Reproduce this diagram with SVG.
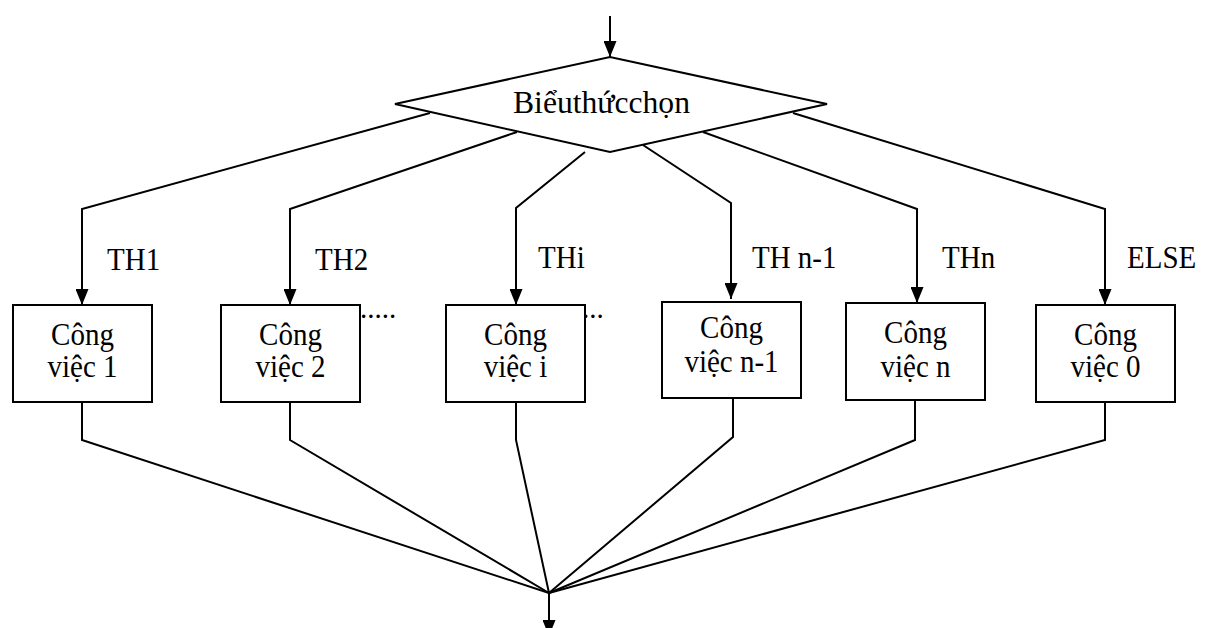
<svg xmlns="http://www.w3.org/2000/svg" width="1205" height="628" viewBox="0 0 1205 628">
<style>
.s{fill:none;stroke:#000;stroke-width:2}
.b{fill:#fff;stroke:#000;stroke-width:2}
text{font-family:"Liberation Serif","Times New Roman",serif;font-size:29px;fill:#000}
.c{text-anchor:middle}
</style>
<defs>
<marker id="a2" viewBox="0 0 16 13" markerWidth="16" markerHeight="13" refX="16" refY="6.5" orient="auto" markerUnits="userSpaceOnUse">
<path d="M0,0 L16,6.5 L0,13 Z" fill="#000"/>
</marker>
</defs>
<g id="dots">
<text x="360" y="318">.....</text>
<text x="582" y="318">...</text>
</g>
<g id="connectors">
<line class="s" x1="610" y1="16" x2="610" y2="57" marker-end="url(#a2)"/>
<polyline class="s" points="430,113 82,209 82,305" marker-end="url(#a2)"/>
<polyline class="s" points="517,132 290,209 290,305" marker-end="url(#a2)"/>
<polyline class="s" points="585,152 516,208 516,305" marker-end="url(#a2)"/>
<polyline class="s" points="643,145 731,203 731,299" marker-end="url(#a2)"/>
<polyline class="s" points="703,132 917,209 917,303" marker-end="url(#a2)"/>
<polyline class="s" points="793,113 1105,209 1105,305" marker-end="url(#a2)"/>
<polyline class="s" points="82,402 82,440 549,593"/>
<polyline class="s" points="290,402 290,440 549,593"/>
<polyline class="s" points="516,402 516,440 549,593"/>
<polyline class="s" points="733,398 733,437 549,593"/>
<polyline class="s" points="915,400 915,440 549,593"/>
<polyline class="s" points="1105,402 1105,440 549,593"/>
<line class="s" x1="549" y1="593" x2="549" y2="636" marker-end="url(#a2)"/>
</g>
<g id="labels">
<text transform="translate(107,270) scale(1,1.12)">TH1</text>
<text transform="translate(315,270) scale(1,1.12)">TH2</text>
<text transform="translate(538,268) scale(1,1.12)">THi</text>
<text transform="translate(752,268) scale(1,1.12)">TH n-1</text>
<text transform="translate(942,268) scale(1,1.12)">THn</text>
<text transform="translate(1127,268) scale(1,1.12)">ELSE</text>
</g>
<g id="decision">
<polygon class="b" points="395,104 610,57 827,104 610,152"/>
<text transform="translate(513,113)" style="font-size:31px" textLength="177" lengthAdjust="spacingAndGlyphs">Biểuthứcchọn</text>
</g>
<g id="job1">
<rect class="b" x="13" y="305" width="139" height="97"/>
<text class="c" transform="translate(82.5,345) scale(1,1.08)">Công</text>
<text class="c" transform="translate(82.5,377) scale(1,1.08)">việc 1</text>
</g>
<g id="job2">
<rect class="b" x="221" y="305" width="139" height="97"/>
<text class="c" transform="translate(290.5,345) scale(1,1.08)">Công</text>
<text class="c" transform="translate(290.5,377) scale(1,1.08)">việc 2</text>
</g>
<g id="jobi">
<rect class="b" x="446" y="305" width="139" height="97"/>
<text class="c" transform="translate(515.5,345) scale(1,1.08)">Công</text>
<text class="c" transform="translate(515.5,377) scale(1,1.08)">việc i</text>
</g>
<g id="jobn1">
<rect class="b" x="662" y="302" width="139" height="96"/>
<text class="c" transform="translate(731.5,338) scale(1,1.08)">Công</text>
<text class="c" transform="translate(731.5,372) scale(1,1.08)">việc n-1</text>
</g>
<g id="jobn">
<rect class="b" x="846" y="303" width="139" height="97"/>
<text class="c" transform="translate(915.5,343) scale(1,1.08)">Công</text>
<text class="c" transform="translate(915.5,377) scale(1,1.08)">việc n</text>
</g>
<g id="job0">
<rect class="b" x="1036" y="305" width="139" height="97"/>
<text class="c" transform="translate(1105.5,345) scale(1,1.08)">Công</text>
<text class="c" transform="translate(1105.5,377) scale(1,1.08)">việc 0</text>
</g>
</svg>
